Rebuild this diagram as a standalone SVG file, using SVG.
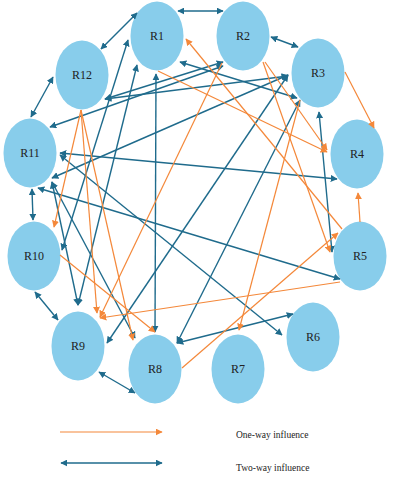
<svg xmlns="http://www.w3.org/2000/svg" width="393" height="480" viewBox="0 0 393 480">
<style>
.n{fill:#88cdeb}
.t{font-family:"Liberation Serif","Times New Roman",serif;font-size:12px;fill:#222;text-anchor:middle;dominant-baseline:central}
.b{stroke:#1f6b8c;stroke-width:1.4;fill:none;marker-start:url(#ab);marker-end:url(#ab)}
.o{stroke:#f4883a;stroke-width:1.2;fill:none;marker-end:url(#ao)}
.lg{font-family:"Liberation Serif","Times New Roman",serif;font-size:9.5px;fill:#222}
</style>
<defs>
<marker id="ab" viewBox="0 0 10 10" refX="9" refY="5" markerWidth="7" markerHeight="7" markerUnits="userSpaceOnUse" orient="auto-start-reverse"><path d="M0,0 L10,5 L0,10 z" fill="#1f6b8c"/></marker>
<marker id="ao" viewBox="0 0 10 10" refX="9" refY="5" markerWidth="7" markerHeight="7" markerUnits="userSpaceOnUse" orient="auto-start-reverse"><path d="M0,0 L10,5 L0,10 z" fill="#f4883a"/></marker>
</defs>
<rect width="393" height="480" fill="#fff"/>
<g id="R1"><ellipse class="n" cx="157" cy="36" rx="26.5" ry="34.5"/><text class="t" x="157" y="36">R1</text></g>
<g id="R2"><ellipse class="n" cx="243" cy="36" rx="26.5" ry="34.5"/><text class="t" x="243" y="36">R2</text></g>
<g id="R3"><ellipse class="n" cx="318" cy="73" rx="26.5" ry="34.5"/><text class="t" x="318" y="73">R3</text></g>
<g id="R4"><ellipse class="n" cx="357" cy="154" rx="26.5" ry="34.5"/><text class="t" x="357" y="154">R4</text></g>
<g id="R5"><ellipse class="n" cx="360" cy="256" rx="26.5" ry="34.5"/><text class="t" x="360" y="256">R5</text></g>
<g id="R6"><ellipse class="n" cx="313" cy="337" rx="26.5" ry="34.5"/><text class="t" x="313" y="337">R6</text></g>
<g id="R7"><ellipse class="n" cx="238" cy="369" rx="26.5" ry="34.5"/><text class="t" x="238" y="369">R7</text></g>
<g id="R8"><ellipse class="n" cx="155" cy="369" rx="26.5" ry="34.5"/><text class="t" x="155" y="369">R8</text></g>
<g id="R9"><ellipse class="n" cx="78" cy="346" rx="26.5" ry="34.5"/><text class="t" x="78" y="346">R9</text></g>
<g id="R10"><ellipse class="n" cx="34" cy="256" rx="26.5" ry="34.5"/><text class="t" x="34" y="256">R10</text></g>
<g id="R11"><ellipse class="n" cx="30" cy="153" rx="26.5" ry="34.5"/><text class="t" x="30" y="153">R11</text></g>
<g id="R12"><ellipse class="n" cx="82" cy="75" rx="26.5" ry="34.5"/><text class="t" x="82" y="75">R12</text></g>
<g id="connectors">
<path class="b" d="M178,11 L223,11"/>
<path class="b" d="M271,37 L298,47"/>
<path class="b" d="M137,13 L101,49"/>
<path class="b" d="M53,77 L31,117"/>
<path class="b" d="M32,189 L33,220"/>
<path class="b" d="M35,292 L58,320"/>
<path class="b" d="M99,372 L135,393"/>
<path class="b" d="M177,343 L293,314"/>
<path class="b" d="M156,74 L155,332"/>
<path class="b" d="M60,153 L337,179"/>
<path class="b" d="M38,188 L340,279"/>
<path class="b" d="M319,112 L332,252"/>
<path class="b" d="M128,40 L62,250"/>
<path class="b" d="M137,65 L78,305"/>
<path class="b" d="M180,62 L297,98"/>
<path class="b" d="M105,99 L223,62"/>
<path class="b" d="M105,99 L288,76"/>
<path class="b" d="M50,127 L223,66"/>
<path class="b" d="M52,178 L288,75"/>
<path class="b" d="M52,182 L78,305"/>
<path class="b" d="M52,182 L135,338"/>
<path class="b" d="M60,155 L282,335"/>
<path class="b" d="M107,343 L288,75"/>
<path class="b" d="M177,343 L300,100"/>
<path class="o" d="M342,229 L186,39"/>
<path class="o" d="M158,71 L327,152"/>
<path class="o" d="M265,62 L327,150"/>
<path class="o" d="M263,62 L330,252"/>
<path class="o" d="M222,63 L100,317"/>
<path class="o" d="M345,72 L374,128"/>
<path class="o" d="M300,100 L239,330"/>
<path class="o" d="M360,222 L358,193"/>
<path class="o" d="M340,282 L100,318"/>
<path class="o" d="M182,368 L338,233"/>
<path class="o" d="M60,255 L155,332"/>
<path class="o" d="M81,110 L54,227"/>
<path class="o" d="M81,110 L97,313"/>
<path class="o" d="M81,110 L133,340"/>
</g>
<g id="legend">
<path class="o" d="M60,432 L162,432"/>
<path class="b" d="M61,463 L162,463"/>
<text class="lg" x="236" y="438">One-way influence</text>
<text class="lg" x="236" y="471">Two-way influence</text>
</g>
</svg>
